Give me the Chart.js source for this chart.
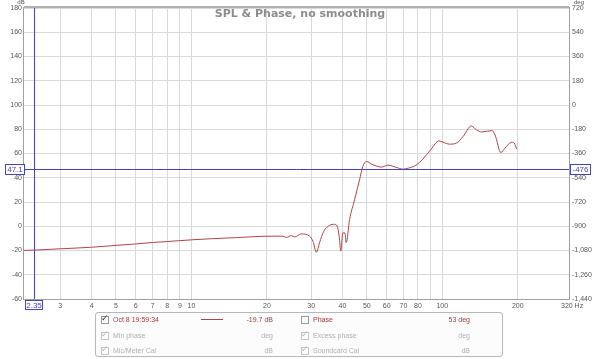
<!DOCTYPE html>
<html>
<head>
<meta charset="utf-8">
<script src="https://cdn.jsdelivr.net/npm/chart.js@4/dist/chart.umd.min.js"></script>
<style>
  body { margin: 0; background: #fff; font-family: "Liberation Sans", Arial, sans-serif; }
  #wrap { position: relative; width: 600px; height: 359px; }
  #legend { position: absolute; left: 95px; top: 312px; width: 408px; height: 45px;
    border: 1px solid #b8b8b8; border-radius: 3px; background: #fcfcfc; box-sizing: border-box; }
  .t { position: absolute; font-size: 7px; line-height: 9px; white-space: nowrap; }
  .r { text-align: right; }
  .red { color: #a33a3a; }
  .dim { color: #b0b0b0; }
  .cb { position: absolute; width: 6px; height: 6px; border: 1px solid #999; background: #fff; }
  .cb.dim { border-color: #c4c4c4; }
  .ck { position: absolute; font-size: 9px; line-height: 9px; color: #333; }
  .ck.dim { color: #b8b8b8; }
</style>
</head>
<body>
<div id="wrap">
  <canvas id="c" width="600" height="359"></canvas>
  <div id="legend"></div>
</div>
<script>
// measurement (Hz / dB)
const freqHz = [2.15, 2.35, 3, 4, 5, 6, 7, 8, 10, 12, 15, 17, 20, 23.2, 23.9, 25, 25.8, 27.4, 29.6,
  30.5, 31.5, 32.4, 33.7, 35.6, 37.2, 38.1, 38.8, 39.4, 40.1, 40.9, 41.4, 42.7, 44.7, 46.8, 48.2,
  49.8, 52.9, 57.2, 60.8, 65.6, 69.8, 73.2, 78.6, 83.6, 90.3, 97, 100.6, 107, 113.7, 121, 130.5,
  136.9, 143.5, 157.7, 162.3, 171.2, 177.7, 189, 193.7, 198];
const splDb = [-19.9, -19.7, -18.6, -17.3, -15.8, -14.6, -13.4, -12.6, -11.2, -10.3, -9.4, -8.8,
  -8.2, -8.2, -9.3, -7.7, -8.8, -6.3, -8.2, -12.3, -21.5, -13.7, -4.1, 0.8, 1.6, 0, -8.2, -20.5,
  -5.5, -5.5, -13.5, 5.5, 21.9, 38.4, 49.3, 53.4, 50.7, 48.8, 50.4, 48.5, 47.1, 47.9, 50.4, 55.3,
  63.6, 70.4, 69.3, 67.7, 68.5, 74, 82.7, 79.5, 77.8, 78.9, 75.3, 60.8, 64.4, 69.3, 68.5, 63.6];

const freqTicks = [3, 4, 5, 6, 7, 8, 9, 10, 20, 30, 40, 50, 60, 70, 80, 90, 100, 200];
const unlabelled = [90];
const cursorHz = 2.35;
const cursorDb = 47.1;
const cursorDeg = -476;

const curveColor = '#b04545';
const cursorColor = '#4646b0';
const gridColor = '#d9d9d9';
const tickFont = { family: 'Liberation Sans', size: 7 };

const overlay = {
  id: 'overlay',
  afterDraw(chart) {
    const { ctx, chartArea: a, scales } = chart;
    const cx = Math.round(scales.x.getPixelForValue(cursorHz)) + 0.5;
    const cy = Math.round(scales.y.getPixelForValue(cursorDb)) + 0.5;
    ctx.save();
    // frame
    ctx.strokeStyle = '#a0a0a0';
    ctx.lineWidth = 1;
    ctx.strokeRect(a.left - 0.5, a.top - 0.5, a.right - a.left + 1, a.bottom - a.top + 1);
    ctx.fillStyle = '#b0b0b0';
    ctx.fillRect(a.left, a.top - 2, a.right - a.left, 2);
    // cursor
    ctx.strokeStyle = cursorColor;
    ctx.beginPath();
    ctx.moveTo(cx, a.top); ctx.lineTo(cx, a.bottom);
    ctx.moveTo(a.left, cy); ctx.lineTo(a.right, cy);
    ctx.stroke();
    // cursor value boxes
    ctx.font = '8px "Liberation Sans"';
    ctx.textBaseline = 'middle';
    ctx.textAlign = 'center';
    const box = (x, y, w, h, txt) => {
      ctx.fillStyle = '#fff';
      ctx.fillRect(x, y, w, h);
      ctx.strokeStyle = cursorColor;
      ctx.strokeRect(x + 0.5, y + 0.5, w - 1, h - 1);
      ctx.fillStyle = cursorColor;
      ctx.fillText(txt, x + w / 2, y + h / 2 + 0.5);
    };
    box(5, cy - 5.5, 20, 11, cursorDb.toFixed(1));
    box(a.right + 1, cy - 5.5, 21, 11, String(cursorDeg));
    box(cx - 9.5, a.bottom + 1, 18, 10, cursorHz.toFixed(2));
    // title and units
    ctx.fillStyle = '#8c8c8c';
    ctx.font = 'bold 11px "DejaVu Sans"';
    ctx.fillText('SPL & Phase, no smoothing', 300, 14);
    ctx.fillStyle = '#555';
    ctx.font = '6px "Liberation Sans"';
    ctx.fillText('dB', a.left - 3, 2);
    ctx.fillText('deg', a.right + 10, 2);
    ctx.font = '7px "Liberation Sans"';
    ctx.textAlign = 'left';
    ctx.fillText('320 Hz', a.right - 8, a.bottom + 7);
    ctx.restore();
  }
};

new Chart(document.getElementById('c'), {
  type: 'line',
  data: {
    datasets: [{
      data: freqHz.map((f, i) => ({ x: f, y: splDb[i] })),
      borderColor: curveColor,
      borderWidth: 1,
      pointRadius: 0,
      cubicInterpolationMode: 'monotone',
      yAxisID: 'y'
    }]
  },
  options: {
    responsive: false,
    animation: false,
    devicePixelRatio: 1,
    layout: { padding: { top: 8, left: 0, right: 0, bottom: 0 } },
    plugins: { legend: { display: false }, tooltip: { enabled: false } },
    scales: {
      x: {
        type: 'logarithmic',
        min: 2.15,
        max: 320,
        afterBuildTicks: (s) => { s.ticks = freqTicks.map((v) => ({ value: v })); },
        afterFit: (s) => { s.height = 60; },
        grid: { color: gridColor, drawTicks: false },
        border: { display: false },
        ticks: {
          autoSkip: false, maxRotation: 0, padding: 3, font: tickFont, color: '#555',
          callback: (v) => (unlabelled.includes(v) ? '' : String(v))
        }
      },
      y: {
        position: 'left',
        min: -60,
        max: 180,
        afterFit: (s) => { s.width = 24; },
        grid: { color: gridColor, drawTicks: false },
        border: { display: false },
        ticks: { stepSize: 20, autoSkip: false, padding: 2, font: tickFont, color: '#555' }
      },
      y2: {
        position: 'right',
        min: -1440,
        max: 720,
        afterFit: (s) => { s.width = 31; },
        grid: { display: false, drawTicks: false },
        border: { display: false },
        ticks: { stepSize: 180, autoSkip: false, padding: 3, font: tickFont, color: '#555' }
      }
    }
  },
  plugins: [overlay]
});

// legend table under the plot
const legendRows = [
  { y: 2, left: ['Oct 8 19:59:34', '-19.7 dB', true, true], right: ['Phase', '53 deg', false, true] },
  { y: 18, left: ['Min phase', 'deg', true, false], right: ['Excess phase', 'deg', true, false] },
  { y: 33, left: ['Mic/Meter Cal', 'dB', true, false], right: ['Soundcard Cal', 'dB', true, false] }
];
const lg = document.getElementById('legend');
function addCell(x, y, label, value, valueRight, checked, active) {
  const cls = active ? 'red' : 'dim';
  lg.insertAdjacentHTML('beforeend',
    `<span class="cb ${active ? '' : 'dim'}" style="left:${x}px;top:${y + 1}px"></span>` +
    (checked ? `<span class="ck ${active ? '' : 'dim'}" style="left:${x}px;top:${y - 1}px">&#10003;</span>` : '') +
    `<span class="t ${cls}" style="left:${x + 12}px;top:${y}px">${label}</span>` +
    `<span class="t r ${cls}" style="left:${valueRight - 60}px;width:60px;top:${y}px">${value}</span>`);
}
legendRows.forEach((r) => {
  addCell(5, r.y, r.left[0], r.left[1], 177, r.left[2], r.left[3]);
  addCell(205, r.y, r.right[0], r.right[1], 374, r.right[2], r.right[3]);
});
lg.insertAdjacentHTML('beforeend',
  `<span style="position:absolute;left:105px;top:6px;width:22px;height:1px;background:${curveColor}"></span>`);
</script>
</body>
</html>
